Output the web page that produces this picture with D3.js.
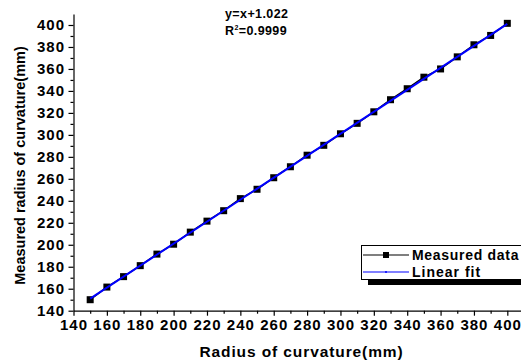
<!DOCTYPE html>
<html>
<head>
<meta charset="utf-8">
<script src="https://cdn.jsdelivr.net/npm/d3@7"></script>
<style>
  body { margin: 0; background: #fff; }
  svg { display: block; font-family: "Liberation Sans", Arial, sans-serif; font-weight: bold; }
</style>
</head>
<body>
<div id="graph"></div>
<script>
// radius of curvature (mm) and measured radius (mm)
const radius = [150, 160, 170, 180, 190, 200, 210, 220, 230, 240, 250, 260, 270,
  280, 290, 300, 310, 320, 330, 340, 350, 360, 370, 380, 390, 400];
const measured = [150, 161.5, 171, 181, 191.5, 200.5, 211.5, 221.5, 231, 242, 250.5, 261, 271,
  281.5, 290.5, 301, 310.5, 321, 332, 342, 352.5, 360, 371, 382, 390.5, 401.5];
const fitSlope = 1, fitIntercept = 1.022;
const xTicks = [140, 160, 180, 200, 220, 240, 260, 280, 300, 320, 340, 360, 380, 400];
const yTicks = [140, 160, 180, 200, 220, 240, 260, 280, 300, 320, 340, 360, 380, 400];

const W = 521, H = 362;
const margin = { top: 14, left: 73.5 };
const width = 450.5, height = 296.7;

const x = d3.scaleLinear().domain([140, 410]).range([0, width]);
const y = d3.scaleLinear().domain([140, 410]).range([height, 0]);

const svg = d3.select("#graph").append("svg")
  .attr("width", W)
  .attr("height", H);

const g = svg.append("g")
  .attr("transform", "translate(" + margin.left + "," + margin.top + ")");

// minor ticks
const minorX = d3.range(150, 410, 20);
const minorY = d3.range(150, 410, 20);

g.append("g")
  .attr("transform", "translate(0," + height + ")")
  .call(d3.axisBottom(x).tickValues(xTicks).tickSize(5).tickPadding(3.5).tickSizeOuter(0));
g.append("g")
  .attr("transform", "translate(0," + height + ")")
  .call(d3.axisBottom(x).tickValues(minorX).tickSize(3).tickFormat("").tickSizeOuter(0))
  .select(".domain").remove();

g.append("g")
  .call(d3.axisLeft(y).tickValues(yTicks).tickSize(5).tickPadding(3.5).tickSizeOuter(0));
g.append("g")
  .call(d3.axisLeft(y).tickValues(minorY).tickSize(3).tickFormat("").tickSizeOuter(0))
  .select(".domain").remove();

g.selectAll(".tick text")
  .attr("font-family", "Liberation Sans, Arial, sans-serif")
  .attr("font-weight", "bold")
  .attr("font-size", "15px")
  .attr("letter-spacing", "1px")
  .attr("fill", "#000");
g.selectAll(".domain, .tick line").attr("stroke", "#000").attr("stroke-width", 1.2);

// measured data
const pts = radius.map((r, i) => [r, measured[i]]);
g.append("path")
  .datum(pts)
  .attr("fill", "none")
  .attr("stroke", "#000")
  .attr("stroke-width", 1.5)
  .attr("d", d3.line().x(d => x(d[0])).y(d => y(d[1])));

g.selectAll(".pt")
  .data(pts)
  .enter().append("rect")
  .attr("class", "pt")
  .attr("x", d => x(d[0]) - 3.5)
  .attr("y", d => y(d[1]) - 3.5)
  .attr("width", 7)
  .attr("height", 7)
  .attr("fill", "#000");

// linear fit
const fitX = [d3.min(radius), d3.max(radius)];
g.append("path")
  .datum(fitX)
  .attr("fill", "none")
  .attr("stroke", "#0000ff")
  .attr("stroke-width", 2)
  .attr("d", d3.line().x(d => x(d)).y(d => y(fitSlope * d + fitIntercept)));

// equation
svg.append("text")
  .attr("x", 225)
  .attr("y", 18)
  .attr("font-size", "12.5px")
  .attr("letter-spacing", "0.4px")
  .text("y=x+" + fitIntercept);
const r2 = svg.append("text")
  .attr("x", 225)
  .attr("y", 35)
  .attr("font-size", "12.5px")
  .attr("letter-spacing", "0.4px");
r2.append("tspan").text("R");
r2.append("tspan").attr("font-size", "7px").attr("dy", -5).text("2");
r2.append("tspan").attr("dy", 5).text("=0.9999");

// axis titles
svg.append("text")
  .attr("x", 301.5)
  .attr("y", 357)
  .attr("text-anchor", "middle")
  .attr("font-size", "15.5px")
  .attr("letter-spacing", "0.9px")
  .text("Radius of curvature(mm)");

svg.append("text")
  .attr("transform", "translate(24.5," + 165.5 + ") rotate(-90)")
  .attr("text-anchor", "middle")
  .attr("font-size", "14.5px")
  .text("Measured radius of curvature(mm)");

// legend
const leg = svg.append("g");
leg.append("rect")
  .attr("x", 368).attr("y", 279)
  .attr("width", 160).attr("height", 6)
  .attr("fill", "#000");
leg.append("rect")
  .attr("x", 361.5).attr("y", 245.5)
  .attr("width", 170).attr("height", 34)
  .attr("fill", "#fff")
  .attr("stroke", "#000")
  .attr("stroke-width", 1);
leg.append("line")
  .attr("x1", 363).attr("x2", 409).attr("y1", 255).attr("y2", 255)
  .attr("stroke", "#000").attr("stroke-width", 1.2);
leg.append("rect")
  .attr("x", 383).attr("y", 252).attr("width", 6).attr("height", 6)
  .attr("fill", "#000");
leg.append("line")
  .attr("x1", 363).attr("x2", 409).attr("y1", 272).attr("y2", 272)
  .attr("stroke", "#0000ff").attr("stroke-width", 1.2);
leg.append("circle")
  .attr("cx", 386).attr("cy", 272).attr("r", 1)
  .attr("fill", "#0000ff");
leg.append("text")
  .attr("x", 412).attr("y", 260)
  .attr("font-size", "14px")
  .attr("letter-spacing", "0.7px")
  .text("Measured data");
leg.append("text")
  .attr("x", 412).attr("y", 277)
  .attr("font-size", "14px")
  .attr("letter-spacing", "1px")
  .text("Linear fit");
</script>
</body>
</html>
